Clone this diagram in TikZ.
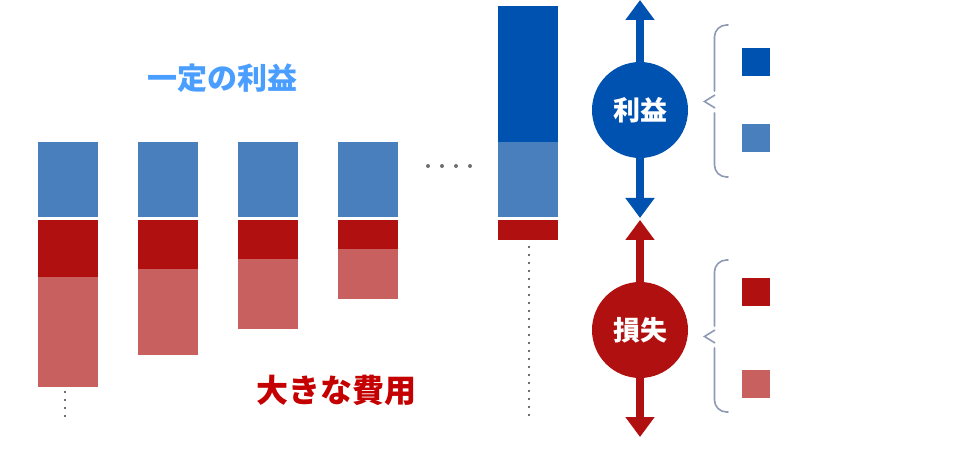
\documentclass[tikz,border=0pt]{standalone}
\usepackage{fontspec}
\newfontfamily\cjk{Noto Sans CJK JP}
\usetikzlibrary{arrows.meta}
\definecolor{profitdark}{RGB}{0,82,176}
\definecolor{profitlight}{RGB}{74,127,189}
\definecolor{costdark}{RGB}{176,16,16}
\definecolor{costlight}{RGB}{200,96,96}
\definecolor{profittext}{RGB}{74,158,255}
\definecolor{costtext}{RGB}{196,0,0}
\definecolor{bracegray}{RGB}{143,154,181}
\definecolor{dotgray}{RGB}{112,112,112}

\tikzset{
  bigarrow/.style={line width=8pt, {Triangle[width=28pt,length=20pt]}-{Triangle[width=28pt,length=20pt]}},
  ball/.style={circle, minimum size=96pt, inner sep=0pt, text=white, font=\cjk\bfseries\fontsize{27}{29}\selectfont},
  bracket/.style={bracegray, line width=1.6pt, rounded corners=12pt, line cap=round}
}

\begin{document}
\begin{tikzpicture}[x=1pt, y=-1pt]
    \useasboundingbox (0,0) rectangle (956,454);

    % Bars with a constant profit and a large cost
    \foreach \i/\cost/\loss in {0/277/387, 1/269/355, 2/259/329, 3/249/299} {
        \pgfmathsetmacro\xpos{38 + \i*100}
        \fill[profitlight] (\xpos,142) rectangle (\xpos+60,217);
        \fill[costdark] (\xpos,220) rectangle (\xpos+60,\cost);
        \fill[costlight] (\xpos,\cost) rectangle (\xpos+60,\loss);
    }

    % Last bar
    \fill[profitdark] (498,6) rectangle (558,142);
    \fill[profitlight] (498,142) rectangle (558,217);
    \fill[costdark] (498,220) rectangle (558,240);

    % Dots
    \foreach \x in {428,442,456,470}
        \fill[dotgray] (\x,166) circle (2);
    \foreach \y in {391,399,...,415}
        \fill[dotgray] (64,\y) rectangle (66,\y+2);
    \foreach \y in {246,254,...,414}
        \fill[dotgray] (528,\y) rectangle (530,\y+2);

    \node[font=\cjk\bfseries\fontsize{30}{32}\selectfont, text=profittext] (fixed) at (222,78) {一定の利益};
    \node[font=\cjk\bfseries\fontsize{32}{34}\selectfont, text=costtext] (large) at (336,390) {大きな費用};

    % Arrows and circles
    \coordinate (ptop) at (640,0);
    \coordinate (pbot) at (640,218);
    \coordinate (ctop) at (640,220);
    \coordinate (cbot) at (640,437);
    \draw[bigarrow, profitdark] (ptop) -- (pbot);
    \draw[bigarrow, costdark] (ctop) -- (cbot);
    \node[ball, fill=profitdark] (profit) at (640,110) {利益};
    \node[ball, fill=costdark] (loss) at (640,330) {損失};

    % Brackets
    \draw[bracket] (728,25) -- (714.5,25) -- (714.5,91);
    \draw[bracegray, line width=1.6pt] (715,95) -- (704.5,101.5) -- (715,108);
    \draw[bracket] (714.5,113) -- (714.5,177) -- (728,177);
    \draw[bracket] (728,260) -- (714.5,260) -- (714.5,326);
    \draw[bracegray, line width=1.6pt] (715,330) -- (704.5,336.5) -- (715,343);
    \draw[bracket] (714.5,348) -- (714.5,412) -- (728,412);

    % Keys
    \fill[profitdark] (742,48) rectangle (770,76);
    \fill[profitlight] (742,124) rectangle (770,152);
    \fill[costdark] (742,278) rectangle (770,306);
    \fill[costlight] (742,370) rectangle (770,398);
\end{tikzpicture}
\end{document}
